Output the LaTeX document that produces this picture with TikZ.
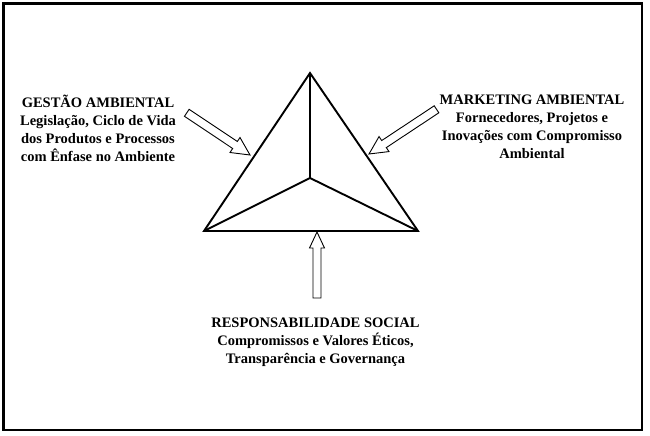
\documentclass[tikz,border=0pt]{standalone}
\usepackage{fontspec}
\setmainfont{Liberation Serif}
\begin{document}
\begin{tikzpicture}[x=1pt,y=-1pt,
  frame/.style={line width=2.4pt},
  tri/.style={line width=1.9pt, line join=miter},
  blockarrow/.style={draw, line width=0.9pt, fill=white, line join=miter},
  label/.style={align=center, font=\fontsize{14.5}{18}\selectfont\bfseries, inner sep=0pt}]
\useasboundingbox (0,0) rectangle (650,436);
\draw[frame] (3.5,3.5) rectangle (642,430);
% triangle
\coordinate (apex) at (310,73);
\coordinate (bl) at (204,231);
\coordinate (br) at (418,231);
\coordinate (ctr) at (310,178);
\draw[tri] (apex) -- (bl) -- (br) -- cycle;
\draw[tri] (apex) -- (ctr) (bl) -- (ctr) -- (br);
% arrows
\coordinate (tipL) at (250,155);
\coordinate (tipR) at (369,154);
\coordinate (tipB) at (317,232);
\begin{scope}[shift={(tipL)}, rotate=-33.7]
  \draw[blockarrow] (0,0) -- (-18,9) -- (-18,4.2) -- (-76,4.2) -- (-76,-4.2) -- (-18,-4.2) -- (-18,-9) -- cycle;
\end{scope}
\begin{scope}[shift={(tipR)}, rotate=213.5]
  \draw[blockarrow] (0,0) -- (-18,9) -- (-18,4.2) -- (-81,4.2) -- (-81,-4.2) -- (-18,-4.2) -- (-18,-9) -- cycle;
\end{scope}
\begin{scope}[shift={(tipB)}, rotate=90]
  \draw[blockarrow] (0,0) -- (-16,7.5) -- (-16,4) -- (-66,4) -- (-66,-4) -- (-16,-4) -- (-16,-7.5) -- cycle;
\end{scope}
% labels
\node[label] (gest) at (98,128) {GESTÃO AMBIENTAL\\Legislação, Ciclo de Vida\\dos Produtos e Processos\\com Ênfase no Ambiente};
\node[label] (mkt) at (532,126.5) {MARKETING AMBIENTAL\\Fornecedores, Projetos e\\Inovações com Compromisso\\Ambiental};
\node[label] (resp) at (315.5,342.5) {RESPONSABILIDADE SOCIAL\\Compromissos e Valores Éticos,\\Transparência e Governança};
\end{tikzpicture}
\end{document}
